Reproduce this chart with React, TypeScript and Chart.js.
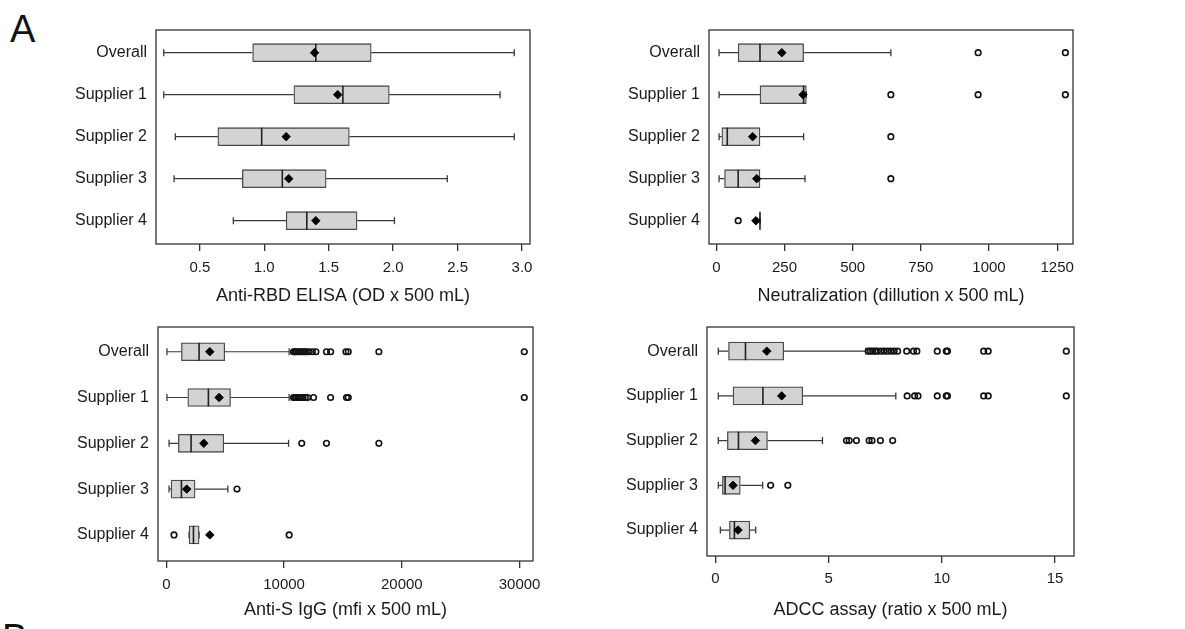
import React, { useEffect, useRef } from 'react';
import { Chart, registerables } from 'chart.js';
Chart.register(...registerables);

const FONT = "'Liberation Sans', Arial, sans-serif";

const categories = ['Overall', 'Supplier 1', 'Supplier 2', 'Supplier 3', 'Supplier 4'];

// [whisker low, Q1, median, Q3, whisker high] per category
const elisaBoxes = [
  [0.22, 0.91, 1.40, 1.83, 2.94],
  [0.22, 1.23, 1.61, 1.97, 2.83],
  [0.31, 0.64, 0.98, 1.66, 2.94],
  [0.30, 0.83, 1.14, 1.48, 2.42],
  [0.76, 1.17, 1.33, 1.72, 2.01],
];
const elisaMeans = [1.39, 1.57, 1.17, 1.19, 1.40];
const elisaOutliers = [[], [], [], [], []];
const elisaTicks = [0.5, 1.0, 1.5, 2.0, 2.5, 3.0];
const elisaTickLabels = ['0.5', '1.0', '1.5', '2.0', '2.5', '3.0'];

const neutBoxes = [
  [10, 80, 160, 320, 640],
  [10, 160, 320, 330, 330],
  [10, 20, 40, 160, 320],
  [10, 30, 80, 160, 325],
  [160, 160, 160, 160, 160],
];
const neutMeans = [240, 318, 133, 148, 145];
const neutOutliers = [[960, 1280], [640, 960, 1280], [640], [640], [80]];
const neutTicks = [0, 250, 500, 750, 1000, 1250];
const neutTickLabels = ['0', '250', '500', '750', '1000', '1250'];

const iggBoxes = [
  [50, 1280, 2780, 4960, 10430],
  [50, 1820, 3570, 5450, 10430],
  [230, 1020, 2100, 4880, 10380],
  [230, 400, 1280, 2440, 5220],
  [1930, 1930, 2300, 2780, 2780],
];
const iggMeans = [3690, 4480, 3180, 1730, 3690];
const iggOutliers = [
  [10800, 10900, 11000, 11150, 11300, 11450, 11600, 11750, 11900, 12100, 12400, 12700, 13600, 13950, 15250, 15450, 18050, 30400],
  [10800, 10900, 11000, 11150, 11300, 11450, 11600, 11800, 12000, 12500, 13950, 15300, 15450, 30400],
  [11500, 13600, 18050],
  [6000],
  [650, 10430],
];
const iggTicks = [0, 10000, 20000, 30000];
const iggTickLabels = ['0', '10000', '20000', '30000'];

const adccBoxes = [
  [0.13, 0.58, 1.33, 3.02, 6.65],
  [0.13, 0.78, 2.10, 3.86, 7.97],
  [0.13, 0.53, 1.02, 2.30, 4.73],
  [0.13, 0.31, 0.43, 1.10, 2.09],
  [0.22, 0.62, 0.84, 1.52, 1.78],
];
const adccMeans = [2.27, 2.93, 1.77, 0.78, 1.00];
const adccOutliers = [
  [6.75, 6.85, 6.95, 7.05, 7.15, 7.3, 7.45, 7.6, 7.75, 7.9, 8.05, 8.45, 8.75, 8.9, 9.8, 10.2, 10.25, 11.85, 12.05, 15.5],
  [8.47, 8.8, 8.95, 9.8, 10.2, 10.25, 11.85, 12.05, 15.5],
  [5.79, 5.91, 6.23, 6.79, 6.92, 7.29, 7.83],
  [2.44, 3.2],
  [],
];
const adccTicks = [0, 5, 10, 15];
const adccTickLabels = ['0', '5', '10', '15'];

const framePlugin = {
  id: 'frame',
  beforeDatasetsDraw(chart: any) {
    const { ctx, chartArea: a } = chart;
    ctx.save();
    ctx.strokeStyle = '#333';
    ctx.lineWidth = 1.3;
    ctx.strokeRect(a.left, a.top, a.right - a.left, a.bottom - a.top);
    ctx.restore();
  },
};

type Layout = {
  left: number; top: number; w: number; h: number;
  yw: number; xh: number; pt: number; pr: number;
  tickPad: number; titlePad: number; yMin: number; yMax: number;
  xMin: number; xMax: number;
};

function Panel(props: {
  boxes: number[][]; means: number[]; outliers: number[][];
  ticks: number[]; tickLabels: string[]; title: string; L: Layout;
}) {
  const ref = useRef<HTMLCanvasElement>(null);
  useEffect(() => {
    const { boxes, means, outliers, ticks, tickLabels, title, L } = props;
    const rows = categories.map((_, i) => i + 1);
    const boxData = boxes.map((b, i) => ({ x: [b[1], b[3]], y: rows[i] }));
    const whiskers: any[] = [];
    const caps: any[] = [];
    boxes.forEach((b, i) => {
      whiskers.push({ x: b[0], y: rows[i] }, { x: b[1], y: rows[i] }, { x: null, y: null });
      whiskers.push({ x: b[3], y: rows[i] }, { x: b[4], y: rows[i] }, { x: null, y: null });
      caps.push({ x: b[0], y: rows[i] }, { x: b[4], y: rows[i] });
    });
    const medians = boxes.map((b, i) => ({ x: b[2], y: rows[i] }));
    const meanPts = means.map((m, i) => ({ x: m, y: rows[i] }));
    const outPts: any[] = [];
    outliers.forEach((arr, i) => arr.forEach((v) => outPts.push({ x: v, y: rows[i] })));

    const chart = new Chart(ref.current as HTMLCanvasElement, {
      type: 'scatter',
      data: {
        datasets: [
          {
            type: 'bar', indexAxis: 'y', data: boxData as any, order: 2,
            backgroundColor: '#d3d3d3', borderColor: '#4a4a4a', borderWidth: 1.3,
            borderSkipped: false, barThickness: 18,
          } as any,
          {
            type: 'line', data: whiskers, order: 3, borderColor: '#3a3a3a', borderWidth: 1.2,
            pointRadius: 0, spanGaps: false, fill: false,
          } as any,
          {
            type: 'scatter', data: caps, order: 3, pointStyle: 'line', pointRotation: 90,
            pointRadius: 3.5, pointBorderWidth: 1.3, pointBorderColor: '#3a3a3a',
          } as any,
          {
            type: 'scatter', data: medians, order: 1, pointStyle: 'line', pointRotation: 90,
            pointRadius: 9, pointBorderWidth: 1.6, pointBorderColor: '#222',
          } as any,
          {
            type: 'scatter', data: meanPts, order: 0, pointStyle: 'rectRot',
            pointRadius: 4.2, pointBorderWidth: 1, pointBorderColor: '#000', pointBackgroundColor: '#000',
          } as any,
          {
            type: 'scatter', data: outPts, order: 0, pointStyle: 'circle',
            pointRadius: 2.8, pointBorderWidth: 1.6, pointBorderColor: '#111',
            pointBackgroundColor: 'rgba(0,0,0,0)',
          } as any,
        ],
      },
      options: {
        responsive: false,
        animation: false,
        events: [],
        layout: { padding: { top: L.pt, right: L.pr, left: 0, bottom: 0 } },
        plugins: { legend: { display: false }, tooltip: { enabled: false } },
        scales: {
          x: {
            type: 'linear', min: L.xMin, max: L.xMax, offset: false, bounds: 'data',
            afterBuildTicks: (s: any) => { s.ticks = ticks.map((v) => ({ value: v })); },
            afterFit: (s: any) => { s.height = L.xh; s.paddingLeft = 0; s.paddingRight = 0; },
            ticks: {
              callback: (_v: any, i: number) => tickLabels[i],
              font: { size: 15, family: FONT }, color: '#1a1a1a', padding: L.tickPad,
              maxRotation: 0, autoSkip: false,
            },
            grid: { display: true, offset: false, drawOnChartArea: false, drawTicks: true, tickLength: 7, color: '#333', lineWidth: 1.3 },
            border: { display: false },
            title: {
              display: true, text: title, font: { size: 18, family: FONT }, color: '#1a1a1a',
              padding: { top: 0, bottom: L.titlePad },
            },
          },
          y: {
            type: 'linear', reverse: true, min: L.yMin, max: L.yMax, offset: false, bounds: 'data',
            beginAtZero: false,
            afterBuildTicks: (s: any) => { s.ticks = rows.map((v) => ({ value: v })); },
            afterFit: (s: any) => { s.width = L.yw; s.paddingTop = 0; s.paddingBottom = 0; },
            ticks: {
              callback: (_v: any, i: number) => categories[i],
              font: { size: 16, family: FONT }, color: '#1a1a1a', padding: 9, autoSkip: false,
            },
            grid: { display: false, offset: false, drawTicks: false },
            border: { display: false },
          },
        },
      } as any,
      plugins: [framePlugin],
    });
    return () => chart.destroy();
  }, []);
  const L = props.L;
  return (
    <canvas
      ref={ref}
      width={L.w}
      height={L.h}
      style={{ position: 'absolute', left: L.left, top: L.top, width: L.w, height: L.h }}
    />
  );
}

const L1: Layout = { left: 0, top: 0, w: 560, h: 315, yw: 156, xh: 71, pt: 30, pr: 30, tickPad: 8, titlePad: 8.2, yMin: 0.46, yMax: 5.555, xMin: 0.16, xMax: 3.062 };
const L2: Layout = { left: 560, top: 0, w: 625, h: 315, yw: 149, xh: 71, pt: 30, pr: 112, tickPad: 8, titlePad: 8.2, yMin: 0.46, yMax: 5.555, xMin: -27, xMax: 1308 };
const L3: Layout = { left: 0, top: 315, w: 560, h: 314, yw: 158, xh: 68, pt: 12, pr: 27, tickPad: 8, titlePad: 8.2, yMin: 0.46, yMax: 5.57, xMin: -710, xMax: 31140 };
const L4: Layout = { left: 560, top: 315, w: 625, h: 314, yw: 147, xh: 73, pt: 12, pr: 111, tickPad: 7, titlePad: 8.2, yMin: 0.46, yMax: 5.58, xMin: -0.37, xMax: 15.84 };

export default function App() {
  return (
    <div style={{ position: 'absolute', left: 0, top: 0, width: 1185, height: 629, overflow: 'hidden', background: '#fff' }}>
      <div style={{ position: 'absolute', left: 10, top: 10, fontFamily: FONT, fontSize: 38, lineHeight: 1, color: '#111' }}>A</div>
      <div style={{ position: 'absolute', left: 2, top: 619, fontFamily: FONT, fontSize: 38, lineHeight: 1, color: '#111' }}>B</div>
      <Panel boxes={elisaBoxes} means={elisaMeans} outliers={elisaOutliers} ticks={elisaTicks} tickLabels={elisaTickLabels} title="Anti-RBD ELISA (OD x 500 mL)" L={L1} />
      <Panel boxes={neutBoxes} means={neutMeans} outliers={neutOutliers} ticks={neutTicks} tickLabels={neutTickLabels} title="Neutralization (dillution x 500 mL)" L={L2} />
      <Panel boxes={iggBoxes} means={iggMeans} outliers={iggOutliers} ticks={iggTicks} tickLabels={iggTickLabels} title="Anti-S IgG (mfi x 500 mL)" L={L3} />
      <Panel boxes={adccBoxes} means={adccMeans} outliers={adccOutliers} ticks={adccTicks} tickLabels={adccTickLabels} title="ADCC assay (ratio x 500 mL)" L={L4} />
    </div>
  );
}
